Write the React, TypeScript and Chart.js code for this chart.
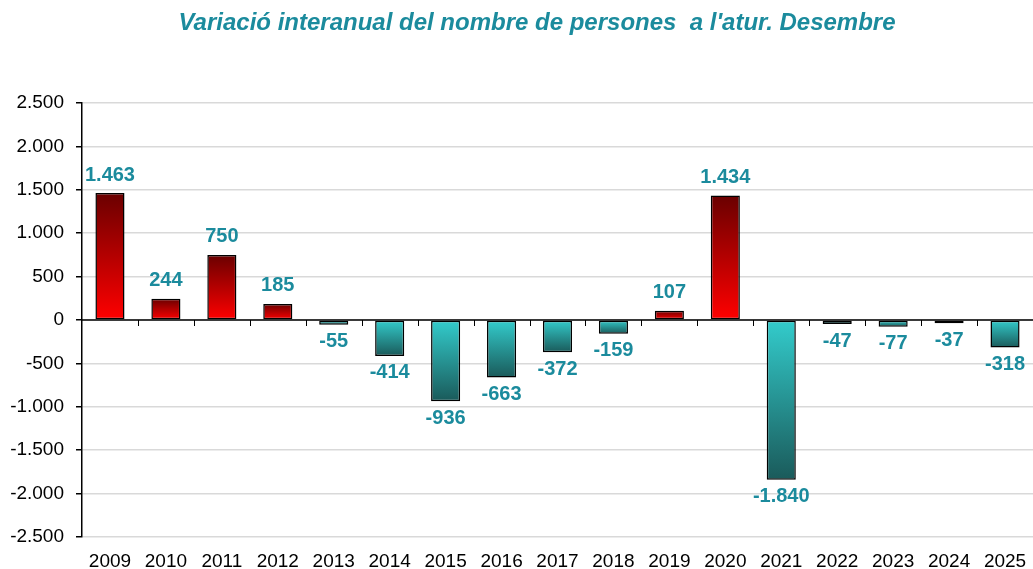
import React, { useEffect, useRef } from "react";
import { Chart, registerables } from "chart.js";

Chart.register(...registerables);

const categories = ["2009","2010","2011","2012","2013","2014","2015","2016","2017","2018","2019","2020","2021","2022","2023","2024","2025"];
const values = [1463, 244, 750, 185, -55, -414, -936, -663, -372, -159, 107, 1434, -1840, -47, -77, -37, -318];
const yTicks = [-2500, -2000, -1500, -1000, -500, 0, 500, 1000, 1500, 2000, 2500];
const titleText = "Variació interanual del nombre de persones  a l'atur. Desembre";

const LABEL_COLOR = "#1b8b9d";
const FONT = "'Liberation Sans', Arial, sans-serif";

function fmt(v: number): string {
  const s = Math.abs(v).toString().replace(/\B(?=(\d{3})+(?!\d))/g, ".");
  return (v < 0 ? "-" : "") + s;
}

export default function App() {
  const ref = useRef<HTMLCanvasElement>(null);
  useEffect(() => {
    const canvas = ref.current!;
    const titlePlugin = {
      id: "titleDraw",
      afterDraw(chart: any) {
        const ctx = chart.ctx;
        ctx.save();
        ctx.font = `italic bold 24px ${FONT}`;
        ctx.fillStyle = LABEL_COLOR;
        ctx.textAlign = "center";
        ctx.textBaseline = "middle";
        ctx.fillText(titleText, 537, 23);
        ctx.restore();
      },
    };
    const zeroTicks = {
      id: "zeroTicks",
      afterDatasetsDraw(chart: any) {
        const ctx = chart.ctx;
        const x = chart.scales.x;
        const y = chart.scales.y;
        const y0 = y.getPixelForValue(0);
        ctx.save();
        ctx.strokeStyle = "#000";
        ctx.lineWidth = 1.5;
        ctx.beginPath();
        ctx.moveTo(chart.chartArea.left, y0);
        ctx.lineTo(chart.chartArea.right, y0);
        ctx.stroke();
        ctx.lineWidth = 1;
        const n = categories.length;
        for (let i = 1; i < n; i++) {
          const px = Math.round((x.getPixelForValue(i - 1) + x.getPixelForValue(i)) / 2) + 0.5;
          ctx.beginPath();
          ctx.moveTo(px, y0);
          ctx.lineTo(px, y0 + 6);
          ctx.stroke();
        }
        ctx.font = `bold 20px ${FONT}`;
        ctx.fillStyle = LABEL_COLOR;
        ctx.textAlign = "center";
        ctx.textBaseline = "middle";
        const meta = chart.getDatasetMeta(0);
        meta.data.forEach((bar: any, i: number) => {
          const v = values[i];
          const py = v >= 0 ? bar.y - 18 : bar.y + 17;
          ctx.fillText(fmt(v), bar.x, py);
        });
        ctx.restore();
      },
    };
    const chart = new Chart(canvas, {
      type: "bar",
      data: {
        labels: categories,
        datasets: [
          {
            data: values,
            backgroundColor: (c: any) => {
              const ch = c.chart;
              const ys = ch.scales?.y;
              const v = values[c.dataIndex];
              if (!ys || c.type !== "data") return v >= 0 ? "#ff0000" : "#33cccc";
              const y0 = ys.getPixelForValue(0);
              const y1 = ys.getPixelForValue(v);
              if (!isFinite(y0) || !isFinite(y1) || y0 === y1) return v >= 0 ? "#ff0000" : "#33cccc";
              const g = ch.ctx.createLinearGradient(0, y1, 0, y0);
              if (v >= 0) {
                g.addColorStop(0, "#6a0000");
                g.addColorStop(1, "#ff0000");
              } else {
                g.addColorStop(0, "#1a5a5a");
                g.addColorStop(1, "#33cccc");
              }
              return g;
            },
            borderColor: "#000",
            borderWidth: 1.5,
            borderSkipped: false,
            barPercentage: 0.52,
            categoryPercentage: 1,
          },
        ],
      },
      options: {
        animation: false,
        responsive: false,
        maintainAspectRatio: false,
        layout: { padding: { top: 103, right: 0, left: 0, bottom: 2 } },
        plugins: { legend: { display: false }, tooltip: { enabled: false }, title: { display: false } },
        scales: {
          x: {
            grid: { display: false },
            border: { display: false },
            ticks: {
              color: "#000",
              font: { family: FONT, size: 19 },
              padding: 5,
              maxRotation: 0,
            },
            afterFit(s: any) { s.height = 30; },
          },
          y: {
            min: -2500,
            max: 2500,
            afterBuildTicks(s: any) { s.ticks = yTicks.map((v) => ({ value: v })); },
            afterFit(s: any) { s.width = 82; },
            grid: {
              color: "#d9d9d9",
              lineWidth: 1.5,
              tickColor: "#000",
              tickLength: 6,
              drawTicks: true,
            },
            border: { color: "#000", width: 1.5 },
            ticks: {
              color: "#000",
              font: { family: FONT, size: 19 },
              padding: 12,
              callback: (v: any) => fmt(Number(v)),
            },
          },
        },
      },
      plugins: [titlePlugin, zeroTicks],
    } as any);
    return () => chart.destroy();
  }, []);
  return (
    <div style={{ position: "fixed", left: 0, top: 0, width: 1033, height: 569, background: "#fff" }}>
      <canvas ref={ref} width={1033} height={569} style={{ width: 1033, height: 569 }} />
    </div>
  );
}
